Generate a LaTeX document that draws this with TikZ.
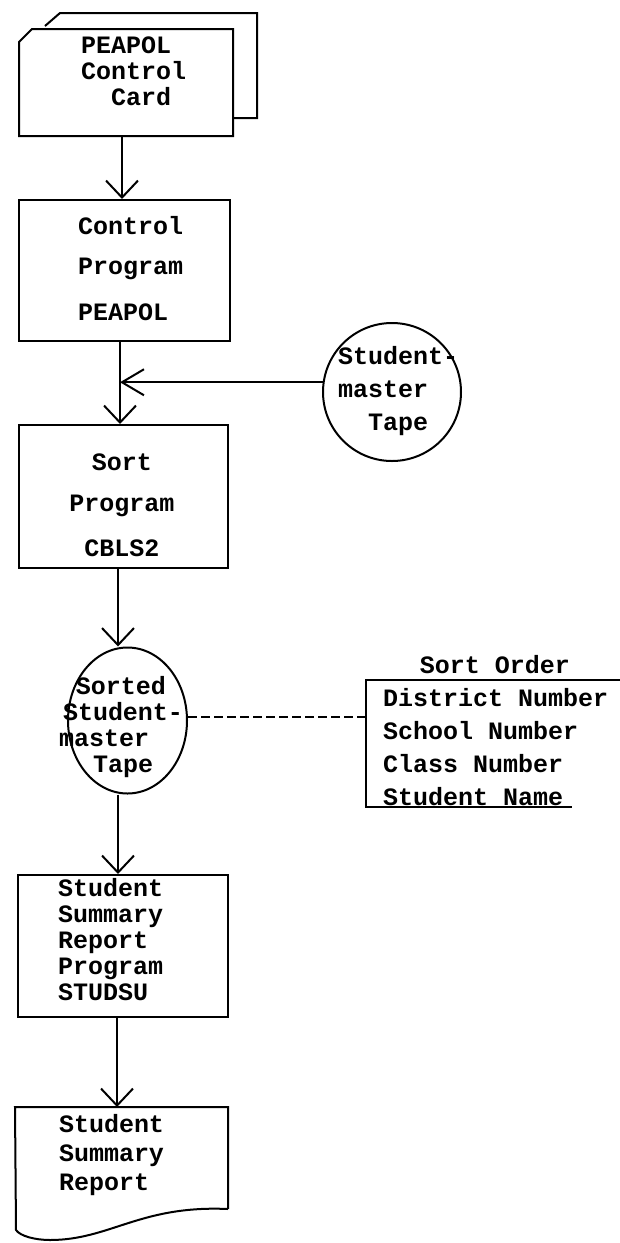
\documentclass[tikz,border=0pt]{standalone}
\usepackage{fontspec}
\newfontfamily\tw{Liberation Mono}
\usetikzlibrary{arrows.meta,shapes.geometric,calc}

\begin{document}
\begin{tikzpicture}[x=1pt,y=-1pt,line width=2pt,
  box/.style={draw,rectangle,inner sep=0pt},
  txt/.style={inner sep=0pt,align=left,font=\tw\bfseries\fontsize{25}{#1}\selectfont},
  txt/.default=30,
  flow/.style={-{Straight Barb[length=17pt,width=32pt]}},
  side/.style={-{Straight Barb[length=22pt,width=26pt]}},
  link/.style={dash pattern=on 9pt off 4pt},
]
% page
\fill[white] (0,0) rectangle (620,1243);
\useasboundingbox (0,0) rectangle (620,1243);

% punched control card (front card with a second card behind it)
\node[inner sep=0pt,minimum width=212pt,minimum height=105pt] (card) at (126,82.5) {};
\draw (45,26) -- (60,13) -- (257,13) -- (257,118) -- (232,118);
\draw (card.south west) -- ($(card.north west)+(0,13)$) -- ($(card.north west)+(13,0)$)
      -- (card.north east) -- (card.south east) -- cycle;
\node[txt=26,anchor=west] (cardtxt) at (80,71) {PEAPOL\\Control\\\phantom{Co}Card};

% control program
\node[box,minimum width=211pt,minimum height=141pt] (ctl) at (124.5,270.5) {};
\node[txt=40,anchor=west] (ctltxt) at (77,269) {Control\\Program\\[6pt]PEAPOL};

% student-master tape
\node[draw,circle,inner sep=0pt,minimum size=138pt] (tape) at (392,392) {};
\node[txt=33,anchor=west] (tapetxt) at (337,391) {Student-\\master\\\phantom{ma}Tape};

% sort program
\node[box,minimum width=209pt,minimum height=143pt] (sort) at (123.5,496.5) {};
\node[txt=41,align=center] (sorttxt) at (122,505) {Sort\\Program\\[4pt]CBLS2};

% sorted tape
\node[draw,ellipse,inner sep=0pt,minimum width=119pt,minimum height=146pt] (sorted) at (127.5,720.5) {};
\node[txt=26,anchor=west] (sortedtxt) at (58,727)
  {\hspace*{17pt}Sorted\\\hspace*{4pt}Student-\\master\\\hspace*{34pt}Tape};

% sort order key
\node[txt] (ordtitle) at (495,665) {Sort Order};
\node[txt=33,anchor=west] (order) at (382,747)
  {District Number\\School Number\\Class Number\\Student Name};
\coordinate (ordL) at (366,717);
\draw (620,680) -- (366,680) -- (366,807) -- (572,807);

% summary report program
\node[box,minimum width=210pt,minimum height=142pt] (ssr) at (123,946) {};
\node[txt=26,anchor=west] (ssrtxt) at (57,940)
  {Student\\Summary\\Report\\Program\\STUDSU};

% printed report
\node[inner sep=0pt,minimum width=211pt,minimum height=100pt] (rep) at (121.5,1158) {};
\draw (rep.south east) -- (rep.north east) -- (rep.north west) -- (16,1230)
      .. controls (20,1236) and (35,1240) .. (50,1240)
      .. controls (110,1240) and (140,1205) .. (rep.south east);
\node[txt=29,anchor=west] (reptxt) at (58,1155.5) {Student\\Summary\\Report};

% connectors
\draw[flow] (card.south -| 122,0) -- (ctl.north -| 122,0);
\draw[flow] (ctl.south -| 120,0) -- (sort.north -| 120,0);
\draw[side] (tape.172) -- (tape.172 -| 120,0);
\draw[flow] (sort.south -| 118,0) -- (sorted.north -| 118,0);
\draw[link] (sorted.east |- ordL) -- (ordL);
\draw[flow] (sorted.south -| 118,0) -- (ssr.north -| 118,0);
\draw[flow] (ssr.south -| 117,0) -- (rep.north -| 117,0);
\end{tikzpicture}
\end{document}
